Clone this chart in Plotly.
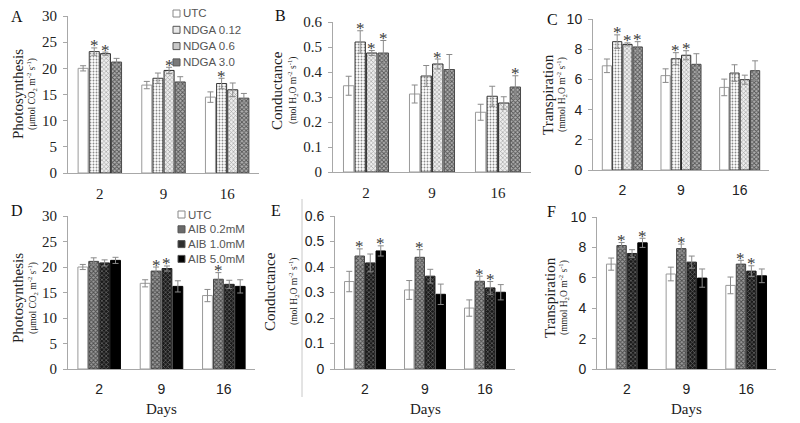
import plotly.graph_objects as go

W, H = 800, 423
OFF = 8  # the page places the figure 8 px from the window's top-left corner

days = ["2", "9", "16"]
ndga_names = ["UTC", "NDGA 0.12", "NDGA 0.6", "NDGA 3.0"]
aib_names = ["UTC", "AIB 0.2mM", "AIB 1.0mM", "AIB 5.0mM"]

# A: photosynthesis, NDGA  (rows = treatments, cols = days)
photo_ndga = [[20.0, 16.8, 14.5], [23.2, 18.1, 17.1], [22.8, 19.6, 15.9], [21.2, 17.4, 14.3]]
photo_ndga_err = [[0.5, 0.7, 1.0], [0.7, 1.0, 1.0], [0.3, 0.6, 1.3], [0.7, 1.0, 0.9]]
photo_ndga_sig = [[0, 0, 0], [1, 0, 1], [1, 1, 0], [0, 0, 0]]

# B: conductance, NDGA
cond_ndga = [[0.345, 0.312, 0.239], [0.52, 0.384, 0.303], [0.476, 0.432, 0.276], [0.476, 0.41, 0.34]]
cond_ndga_err = [[0.038, 0.036, 0.032], [0.045, 0.042, 0.04], [0.01, 0.02, 0.025], [0.05, 0.06, 0.045]]
cond_ndga_sig = [[0, 0, 0], [1, 0, 0], [1, 1, 0], [1, 0, 1]]

# C: transpiration, NDGA
trans_ndga = [[6.9, 6.25, 5.47], [8.5, 7.37, 6.42], [8.32, 7.6, 5.98], [8.15, 7.0, 6.58]]
trans_ndga_err = [[0.45, 0.45, 0.55], [0.45, 0.4, 0.55], [0.1, 0.3, 0.3], [0.35, 0.7, 0.65]]
trans_ndga_sig = [[0, 0, 0], [1, 1, 0], [1, 1, 0], [1, 0, 0]]

# D: photosynthesis, AIB
photo_aib = [[20.0, 16.8, 14.4], [21.1, 19.2, 17.6], [20.8, 19.7, 16.6], [21.3, 16.2, 16.2]]
photo_aib_err = [[0.5, 0.7, 1.2], [0.7, 0.8, 1.3], [0.6, 0.5, 0.8], [0.6, 1.1, 1.3]]
photo_aib_sig = [[0, 0, 0], [0, 1, 1], [0, 1, 0], [0, 0, 0]]

# E: conductance, AIB
cond_aib = [[0.343, 0.31, 0.239], [0.443, 0.438, 0.344], [0.416, 0.364, 0.318], [0.463, 0.293, 0.301]]
cond_aib_err = [[0.04, 0.037, 0.032], [0.028, 0.03, 0.02], [0.035, 0.027, 0.025], [0.02, 0.04, 0.03]]
cond_aib_sig = [[0, 0, 0], [1, 1, 1], [0, 0, 1], [1, 0, 0]]

# F: transpiration, AIB
trans_aib = [[6.9, 6.25, 5.5], [8.12, 7.92, 6.9], [7.6, 7.03, 6.44], [8.3, 5.98, 6.13]]
trans_aib_err = [[0.4, 0.45, 0.55], [0.2, 0.3, 0.25], [0.25, 0.4, 0.35], [0.3, 0.6, 0.45]]
trans_aib_sig = [[0, 0, 0], [1, 1, 1], [0, 0, 1], [1, 0, 0]]

SERIF = "Liberation Serif, Times New Roman, serif"
SANS = "Liberation Sans, Arial, sans-serif"
AX = "#a8a8a8"
BARGAP = 0.3


def fx(px):
    return (px - OFF) / W


def fy(py):
    return 1 - (py - OFF) / H


ndga_styles = [
    dict(fill="white", line="#9a9a9a", pat=None, sw="white"),
    dict(fill="white", line="#3a3a3a", pat=dict(shape=".", fgcolor="#8a8a8a", bgcolor="white", size=3, solidity=0.3), sw="#e8e8e8"),
    dict(fill="#dcdcdc", line="#2a2a2a", pat=dict(shape="x", fgcolor="#999999", bgcolor="#ededed", size=3, solidity=0.35), sw="#c8c8c8"),
    dict(fill="#8a8a8a", line="#4a4a4a", pat=dict(shape="x", fgcolor="#555555", bgcolor="#b0b0b0", size=3, solidity=0.5), sw="#7a7a7a"),
]
aib_styles = [
    dict(fill="white", line="#9a9a9a", pat=None, sw="white"),
    dict(fill="#777", line="#444", pat=dict(shape="x", fgcolor="#4a4a4a", bgcolor="#9a9a9a", size=3, solidity=0.5), sw="#6a6a6a"),
    dict(fill="#333", line="#222", pat=dict(shape="x", fgcolor="#6a6a6a", bgcolor="#1a1a1a", size=3, solidity=0.4), sw="#2e2e2e"),
    dict(fill="black", line="black", pat=None, sw="black"),
]

panels = [
    dict(v=photo_ndga, e=photo_ndga_err, s=photo_ndga_sig, st=ndga_styles, n=ndga_names,
         px=(68, 259, 16, 173), rng=[0, 30], dt=5, yf=SERIF, xf=SERIF, letter="A", lp=(17, 16),
         title="Photosynthesis", sub="(μmol CO<sub>2</sub> m<sup>-2</sup> s<sup>-1</sup>)", tp=(18, 94, 32)),
    dict(v=cond_ndga, e=cond_ndga_err, s=cond_ndga_sig, st=ndga_styles, n=ndga_names,
         px=(333, 531, 22, 172), rng=[0, 0.6], dt=0.1, yf=SERIF, xf=SERIF, letter="B", lp=(280, 15),
         title="Conductance", sub="(mol H<sub>2</sub>O m<sup>-2</sup> s<sup>-1</sup>)", tp=(277, 91, 293)),
    dict(v=trans_ndga, e=trans_ndga_err, s=trans_ndga_sig, st=ndga_styles, n=ndga_names,
         px=(593, 769, 19, 170), rng=[0, 10], dt=2, yf=SANS, xf=SANS, letter="C", lp=(552, 19),
         title="Transpiration", sub="(mmol H<sub>2</sub>O m<sup>-2</sup> s<sup>-1</sup>)", tp=(548, 95, 562)),
    dict(v=photo_aib, e=photo_aib_err, s=photo_aib_sig, st=aib_styles, n=aib_names,
         px=(68, 255, 216, 369), rng=[0, 30], dt=5, yf=SERIF, xf=SANS, letter="D", lp=(17, 210),
         title="Photosynthesis", sub="(μmol CO<sub>2</sub> m<sup>-2</sup> s<sup>-1</sup>)", tp=(18, 298, 32)),
    dict(v=cond_aib, e=cond_aib_err, s=cond_aib_sig, st=aib_styles, n=aib_names,
         px=(335, 515, 216, 369), rng=[0, 0.6], dt=0.1, yf=SANS, xf=SANS, letter="E", lp=(276, 210),
         title="Conductance", sub="(mol H<sub>2</sub>O m<sup>-2</sup> s<sup>-1</sup>)", tp=(270, 292, 293)),
    dict(v=trans_aib, e=trans_aib_err, s=trans_aib_sig, st=aib_styles, n=aib_names,
         px=(597, 776, 217, 369), rng=[0, 10], dt=2, yf=SANS, xf=SANS, letter="F", lp=(551, 211),
         title="Transpiration", sub="(mmol H<sub>2</sub>O m<sup>-2</sup> s<sup>-1</sup>)", tp=(550, 298, 563)),
]

fig = go.Figure()
annotations = []
shapes = []
layout = {}

for k, p in enumerate(panels):
    idx = "" if k == 0 else str(k + 1)
    xa, ya = "x" + idx, "y" + idx
    x0, x1, yt, yb = p["px"]
    for j in range(4):
        st = p["st"][j]
        marker = dict(color=st["fill"], line=dict(color=st["line"], width=1))
        if st["pat"] is not None:
            marker["pattern"] = dict(fillmode="replace", **st["pat"])
        fig.add_trace(go.Bar(
            x=days, y=p["v"][j], name=p["n"][j], xaxis=xa, yaxis=ya, showlegend=False,
            marker=marker,
            error_y=dict(type="data", array=p["e"][j], visible=True, color="#8a8a8a", thickness=1, width=3),
        ))
    cat_px = (x1 - x0) / 3.0
    slot = cat_px * (1 - BARGAP) / 4.0
    for j in range(4):
        for d in range(3):
            if p["s"][j][d]:
                annotations.append(dict(
                    x=d, y=p["v"][j][d] + p["e"][j][d], xref=xa, yref=ya,
                    xshift=(j - 1.5) * slot, yshift=2, yanchor="middle", showarrow=False,
                    text="*", font=dict(family=SERIF, size=17, color="#3a3a3a")))
    xs = 15 if p["xf"] == SERIF else 14
    ys = 15 if p["yf"] == SERIF else 14
    layout["xaxis" + idx] = dict(
        type="category", range=[-0.5, 2.5], autorange=False, automargin=False,
        domain=[fx(x0), fx(x1)], anchor=ya,
        showline=True, linecolor=AX, linewidth=1,
        ticks="", showgrid=False, zeroline=False, ticklabelstandoff=7,
        tickfont=dict(family=p["xf"], size=xs, color="#222"))
    layout["yaxis" + idx] = dict(
        domain=[fy(yb), fy(yt)], anchor=xa, range=p["rng"], autorange=False, automargin=False,
        dtick=p["dt"], showline=True,
        linecolor=AX, linewidth=1, ticks="outside", ticklen=4, tickcolor=AX, showgrid=False, zeroline=False,
        ticklabelstandoff=3,
        tickfont=dict(family=p["yf"], size=ys, color="#222"))
    annotations.append(dict(x=fx(p["lp"][0]), y=fy(p["lp"][1]), xref="paper", yref="paper",
                            text=p["letter"], showarrow=False, xanchor="center", yanchor="middle",
                            font=dict(family=SERIF, size=16, color="#111")))
    tx, ty, sx = p["tp"]
    annotations.append(dict(x=fx(tx), y=fy(ty), xref="paper", yref="paper", text=p["title"],
                            textangle=-90, showarrow=False, xanchor="center", yanchor="middle",
                            font=dict(family=SERIF, size=15, color="#222")))
    annotations.append(dict(x=fx(sx), y=fy(ty), xref="paper", yref="paper", text=p["sub"],
                            textangle=-90, showarrow=False, xanchor="center", yanchor="middle",
                            font=dict(family=SERIF, size=9.5, color="#222")))
    if k >= 3:
        annotations.append(dict(x=fx((x0 + x1) / 2), y=fy(409), xref="paper", yref="paper", text="Days",
                                showarrow=False, xanchor="center", yanchor="middle",
                                font=dict(family=SERIF, size=15, color="#222")))


def add_legend(names, styles, sx, y0, dy, tx):
    for i, (nm, st) in enumerate(zip(names, styles)):
        cy = y0 + i * dy
        shapes.append(dict(type="rect", xref="paper", yref="paper",
                           x0=fx(sx), x1=fx(sx + 7), y0=fy(cy + 3.5), y1=fy(cy - 3.5),
                           fillcolor=st["sw"],
                           line=dict(color="#555" if (st["pat"] is not None or st["fill"] == "black") else "#888", width=1)))
        annotations.append(dict(x=fx(tx), y=fy(cy), xref="paper", yref="paper", text=nm, showarrow=False,
                                xanchor="left", yanchor="middle", borderpad=0,
                                font=dict(family=SANS, size=11.5, color="#555")))


add_legend(ndga_names, ndga_styles, 173, 13.5, 16.3, 182)
add_legend(aib_names, aib_styles, 178, 214.5, 14.8, 187)

shapes.append(dict(type="line", xref="paper", yref="paper", x0=fx(302), x1=fx(302),
                   y0=fy(397), y1=fy(199), line=dict(color="#c8c8c8", width=1)))

fig.update_layout(
    template="none",
    width=W, height=H, margin=dict(l=0, r=0, t=0, b=0, pad=0, autoexpand=False),
    paper_bgcolor="white", plot_bgcolor="white",
    barmode="group", bargap=BARGAP, bargroupgap=0.1, showlegend=False,
    annotations=annotations, shapes=shapes, **layout)

fig.write_html("out.html")
